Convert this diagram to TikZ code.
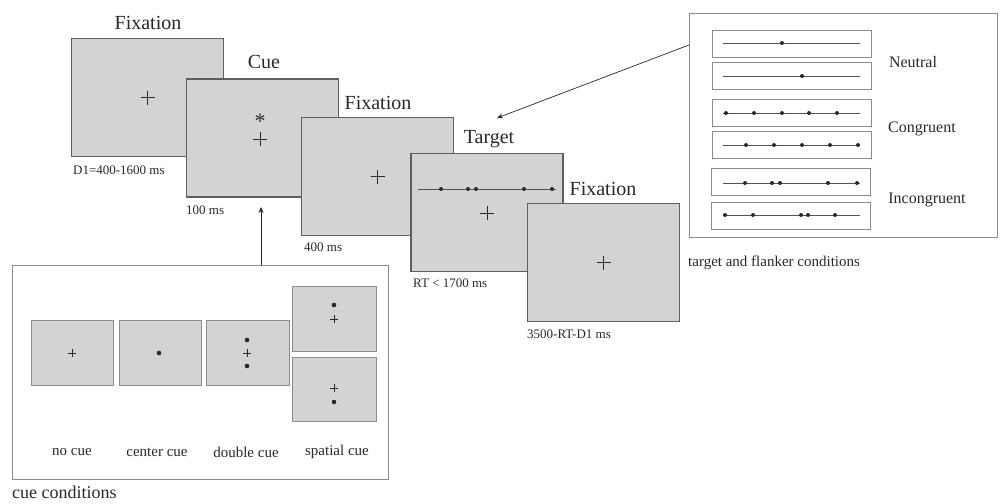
\documentclass[tikz,border=0pt]{standalone}
\usepackage{fontspec}
\setmainfont{Liberation Serif}
\usetikzlibrary{arrows.meta}
\definecolor{scrfill}{RGB}{211,211,211}
\definecolor{scrline}{RGB}{95,95,95}
\definecolor{boxline}{RGB}{140,140,140}
\definecolor{ink}{RGB}{40,40,40}
\tikzset{
  screen/.style={draw=scrline, fill=scrfill, line width=1.2pt, minimum width=152pt, minimum height=118pt, inner sep=0pt, outer sep=0pt},
  minis/.style={draw=boxline, fill=scrfill, line width=0.8pt, inner sep=0pt, outer sep=0pt},
  panel/.style={draw=boxline, line width=0.9pt, inner sep=0pt, outer sep=0pt},
  rowbox/.style={draw=boxline, line width=0.9pt, minimum width=159pt, minimum height=27pt, inner sep=0pt, outer sep=0pt},
  title/.style={font=\fontsize{20}{24}\selectfont, text=ink, inner sep=0pt},
  small/.style={font=\fontsize{13}{15}\selectfont, text=ink, inner sep=0pt, anchor=west},
  lab/.style={font=\fontsize{15}{18}\selectfont, text=ink, inner sep=0pt},
  conn/.style={draw=ink, line width=0.7pt, -{Stealth[length=6pt,width=5pt]}},
  fixcross/.pic={\draw[ink, line width=0.8pt] (-7,0) -- (7,0) (0,-7) -- (0,7);},
  smallcross/.pic={\draw[ink, line width=0.7pt] (-4,0) -- (4,0) (0,-4) -- (0,4);},
  fl/.style={fill=ink},
  flline/.style={draw=ink!80, line width=0.6pt}
}
\begin{document}
\begin{tikzpicture}[x=1pt,y=-1pt]
\useasboundingbox (0,0) rectangle (1000,503);

% ---- main sequence of screens ----
\node[screen] (s1) at (147.5,97.5) {};
\pic at (s1.center) {fixcross};
\node[title] (t1) at (148,23) {Fixation};
\node[small] (l1) at (73,170) {D1=400-1600 ms};

\node[screen] (s2) at (262.5,138) {};
\node[font=\fontsize{22}{22}\selectfont, text=ink, inner sep=0pt] (cuestar) at (260,121) {*};
\pic at (260,139) {fixcross};
\node[title] (t2) at (264,62) {Cue};
\node[small] (l2) at (186,210) {100 ms};

\node[screen] (s3) at (377.5,176.5) {};
\pic at (s3.center) {fixcross};
\node[title] (t3) at (378,103) {Fixation};
\node[small] (l3) at (304,247) {400 ms};

\node[screen] (s4) at (487,212.5) {};
\draw[flline] (418,189) -- (556,189);
\foreach \x in {441,468,476,524,552} \fill[fl] (\x,189) circle (2pt);
\pic at (487,213) {fixcross};
\node[title] (t4) at (489,139) {Target};
\node[small] (l4) at (413,283) {RT < 1700 ms};

\node[screen] (s5) at (603.5,262.5) {};
\pic at (s5.center) {fixcross};
\node[title] (t5) at (603,189) {Fixation};
\node[small] (l5) at (527,334) {3500-RT-D1 ms};

% ---- flanker panel ----
\node[panel, minimum width=308pt, minimum height=224pt] (flbox) at (843,125) {};
\node[rowbox] (r1) at (792,43.5) {};
\node[rowbox] (r2) at (792,76) {};
\node[rowbox] (r3) at (792,112.5) {};
\node[rowbox] (r4) at (792,144.5) {};
\node[rowbox] (r5) at (791,182) {};
\node[rowbox] (r6) at (791,216) {};
\draw[flline] (723,43) -- (860,43);
\fill[fl] (782,43) circle (2pt);
\draw[flline] (723,76) -- (860,76);
\fill[fl] (802,76) circle (2pt);
\draw[flline] (723,113) -- (860,113);
\foreach \x in {726,754,782,809,837} \fill[fl] (\x,113) circle (2pt);
\draw[flline] (723,145) -- (860,145);
\foreach \x in {746,774,802,830,858} \fill[fl] (\x,145) circle (2pt);
\draw[flline] (723,183) -- (860,183);
\foreach \x in {745,772,780,828,857} \fill[fl] (\x,183) circle (2pt);
\draw[flline] (723,215) -- (860,215);
\foreach \x in {725,753,801,808,835} \fill[fl] (\x,215) circle (2pt);
\node[lab, font=\fontsize{16}{18}\selectfont] (neu) at (913,62) {Neutral};
\node[lab, font=\fontsize{16}{18}\selectfont] (con) at (922,129) {Congruent};
\node[lab, font=\fontsize{16}{18}\selectfont] (inc) at (927,200) {Incongruent};
\node[lab, anchor=west] (fllab) at (688,263) {target and flanker conditions};

\coordinate (flstart) at (689,45);
\coordinate (fltip) at (497,118);
\draw[conn] (flstart) -- (fltip);

% ---- cue panel ----
\node[panel, minimum width=376pt, minimum height=214pt] (cuebox) at (200,372) {};
\node[minis, minimum width=82pt, minimum height=65pt] (c1) at (72,352.5) {};
\node[minis, minimum width=82pt, minimum height=65pt] (c2) at (160,352.5) {};
\node[minis, minimum width=83pt, minimum height=65pt] (c3) at (247.5,352.5) {};
\node[minis, minimum width=84pt, minimum height=65pt] (c4) at (334,318.5) {};
\node[minis, minimum width=84pt, minimum height=64pt] (c5) at (334.5,389) {};
\pic at (72,353) {smallcross};
\fill[fl] (159,353) circle (2.3pt);
\fill[fl] (247,340) circle (2.3pt);
\pic at (247,353) {smallcross};
\fill[fl] (247,366) circle (2.3pt);
\fill[fl] (334,305) circle (2.3pt);
\pic at (334,319) {smallcross};
\pic at (334,388) {smallcross};
\fill[fl] (334,402) circle (2.3pt);
\node[lab] (n1) at (72,452) {no cue};
\node[lab] (n2) at (157,452) {center cue};
\node[lab] (n3) at (246,452) {double cue};
\node[lab] (n4) at (337,452) {spatial cue};
\node[lab, anchor=west, font=\fontsize{18}{20}\selectfont] (cuelab) at (12,492) {cue conditions};

\coordinate (cuetip) at (261,207);
\draw[conn] (cuetip |- cuebox.north) -- (cuetip);
\end{tikzpicture}
\end{document}
